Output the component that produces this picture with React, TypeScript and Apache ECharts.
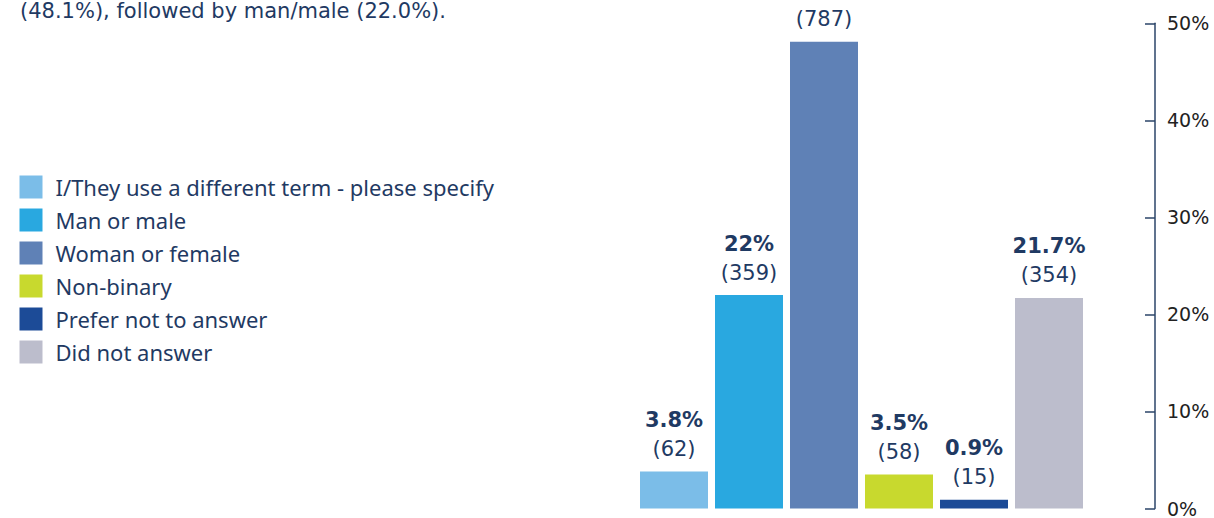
import React, { useEffect, useRef } from "react";
import * as echarts from "echarts";

const categories = [
  "I/They use a different term - please specify",
  "Man or male",
  "Woman or female",
  "Non-binary",
  "Prefer not to answer",
  "Did not answer",
];
const percentValues = [3.8, 22.0, 48.1, 3.5, 0.9, 21.7];
const percentLabels = ["3.8%", "22%", "48.1%", "3.5%", "0.9%", "21.7%"];
const counts = [62, 359, 787, 58, 15, 354];
const colors = ["#7bbde8", "#29a8e0", "#5f81b6", "#c8d92e", "#1c4b97", "#bcbdcc"];
const yTicks = [0, 10, 20, 30, 40, 50];
const introText = "(48.1%), followed by man/male (22.0%).";

const NAVY = "#1f3a63";
const FONT = "Noto Sans";
const NUMFONT = "DejaVu Sans";

export default function App() {
  const ref = useRef<HTMLDivElement>(null);
  useEffect(() => {
    if (!ref.current) return;
    const chart = echarts.init(ref.current, undefined, { renderer: "svg" });
    const series = categories.map((name, i) => ({
      name,
      type: "bar",
      stack: "all",
      barWidth: 68,
      itemStyle: { color: colors[i] },
      data: percentValues.map((v, j) => (j === i ? v : "-")),
      label: {
        show: true,
        position: "top",
        distance: 8,
        formatter: () => `{p|${percentLabels[i]}}\n{n|(${counts[i]})}`,
        rich: {
          p: { fontFamily: NUMFONT, fontWeight: "bold", fontSize: 21, lineHeight: 29, color: NAVY },
          n: { fontFamily: NUMFONT, fontSize: 21, lineHeight: 29, color: NAVY },
        },
      },
    }));
    chart.setOption({
      animation: false,
      textStyle: { fontFamily: FONT },
      grid: { left: 636.5, right: 127.5, top: 23.3, bottom: 9 },
      legend: {
        orient: "vertical",
        left: 19.5,
        top: 175.5,
        padding: 0,
        itemWidth: 23,
        itemHeight: 23,
        itemGap: 10,
        icon: "rect",
        data: categories,
        selectedMode: false,
        textStyle: { fontFamily: FONT, fontSize: 22, color: NAVY, padding: [0, 0, 0, 8] },
      },
      xAxis: {
        type: "category",
        data: categories,
        show: false,
      },
      yAxis: {
        type: "value",
        position: "right",
        offset: 68.5,
        min: yTicks[0],
        max: yTicks[yTicks.length - 1],
        interval: 10,
        splitLine: { show: false },
        axisLine: { show: true, lineStyle: { color: "#2b4468", width: 1.5 } },
        axisTick: { show: true, inside: true, length: 10, lineStyle: { color: "#2b4468", width: 1.5 } },
        axisLabel: {
          margin: 12,
          fontFamily: NUMFONT,
          fontSize: 19,
          color: "#222222",
          padding: [0, 0, 6, 0],
          formatter: (v: number) => `${v}%`,
        },
      },
      graphic: [
        {
          type: "text",
          left: 20,
          top: 0,
          style: { text: introText, fontFamily: NUMFONT, fontSize: 21, fill: NAVY },
        },
      ],
      series,
    });
    return () => chart.dispose();
  }, []);
  return (
    <div
      ref={ref}
      style={{ position: "fixed", left: 0, top: 0, width: 1214, height: 518, background: "#fff" }}
    />
  );
}
